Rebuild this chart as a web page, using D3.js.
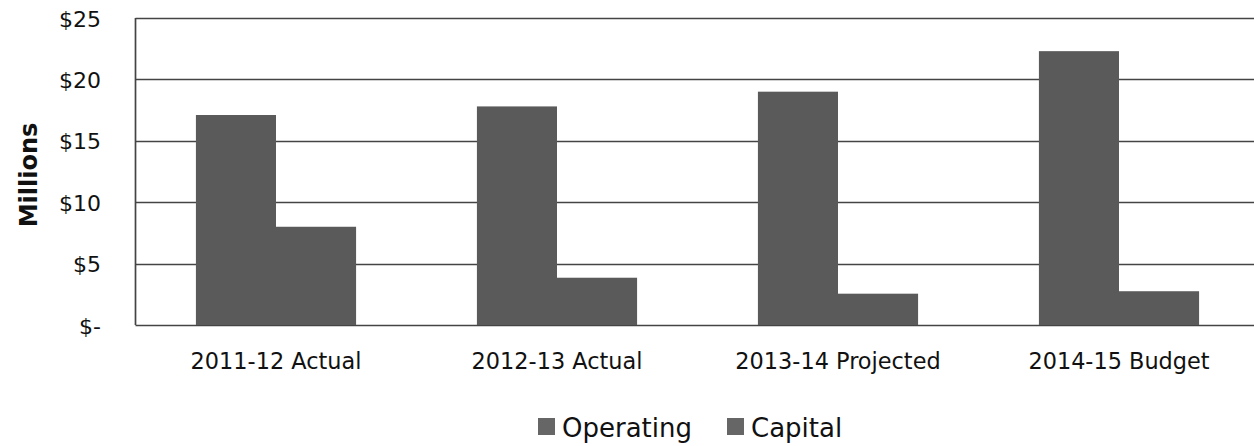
<!DOCTYPE html>
<html>
<head>
<meta charset="utf-8">
<script src="https://cdn.jsdelivr.net/npm/d3@7"></script>
<style>
  body { margin: 0; background: #fff; }
  text { font-family: "DejaVu Sans", Verdana, sans-serif; fill: #111; }
</style>
</head>
<body>
<script>
// data (millions of dollars)
var categories = ["2011-12 Actual", "2012-13 Actual", "2013-14 Projected", "2014-15 Budget"];
var series = ["Operating", "Capital"];
var operating = [17.1, 17.8, 19.0, 22.3];
var capital = [8.0, 3.85, 2.55, 2.75];
var yTicks = [0, 5, 10, 15, 20, 25];

var width = 1254, height = 446;
var margin = {left: 135.5, top: 18, bottom: 121};

var svg = d3.select("body").append("svg")
    .attr("width", width)
    .attr("height", height);

var x0 = d3.scaleBand()
    .domain(categories)
    .range([margin.left, margin.left + 4 * 281]);

var x1 = d3.scaleBand()
    .domain(series)
    .range([x0.bandwidth() * 0.215, x0.bandwidth() * 0.785]);

var y = d3.scaleLinear()
    .domain([0, 25])
    .range([height - margin.bottom, margin.top]);

//gridlines
svg.append("g")
    .selectAll("line")
    .data(yTicks)
    .enter().append("line")
    .attr("x1", margin.left)
    .attr("x2", width)
    .attr("y1", function(d) { return Math.round(y(d)) + 0.5; })
    .attr("y2", function(d) { return Math.round(y(d)) + 0.5; })
    .style("stroke", "#444")
    .style("stroke-width", 1.7);

//left border
svg.append("line")
    .attr("x1", margin.left).attr("x2", margin.left)
    .attr("y1", y(25)).attr("y2", y(0))
    .style("stroke", "#444")
    .style("stroke-width", 1.7);

//bars
var rows = categories.map(function(c, i) {
    return {cat: c, values: [{key: "Operating", v: operating[i]}, {key: "Capital", v: capital[i]}]};
});

var groups = svg.selectAll(".grp")
    .data(rows)
    .enter().append("g")
    .attr("class", "grp")
    .attr("transform", function(d) { return "translate(" + x0(d.cat) + ",0)"; });

groups.selectAll("rect")
    .data(function(d) { return d.values; })
    .enter().append("rect")
    .attr("x", function(d) { return x1(d.key); })
    .attr("width", x1.bandwidth())
    .attr("y", function(d) { return y(d.v); })
    .attr("height", function(d) { return y(0) - y(d.v); })
    .style("fill", "#5a5a5a");

//y axis labels
var yAxis = d3.axisLeft(y).tickValues(yTicks).tickSize(0).tickPadding(0)
    .tickFormat(function(d) { return d == 0 ? "$-" : "$" + d; });

var gy = svg.append("g")
    .attr("transform", "translate(101,1)")
    .call(yAxis);
gy.select(".domain").remove();
gy.selectAll("text")
    .style("font-family", "'DejaVu Sans', Verdana, sans-serif")
    .style("font-size", "22px")
    .attr("fill", "#111");

svg.append("text")
    .attr("transform", "translate(37," + 175 + ") rotate(-90)")
    .style("text-anchor", "middle")
    .style("font-weight", "bold")
    .style("font-size", "24px")
    .text("Millions");

//x labels
svg.selectAll(".xlab")
    .data(categories)
    .enter().append("text")
    .attr("class", "xlab")
    .attr("x", function(d) { return x0(d) + x0.bandwidth() / 2; })
    .attr("y", 369)
    .style("text-anchor", "middle")
    .style("font-size", "22.4px")
    .text(function(d) { return d; });

//legend
var legendX = [538, 727];
var legend = svg.selectAll(".leg")
    .data(series)
    .enter().append("g")
    .attr("class", "leg")
    .attr("transform", function(d, i) { return "translate(" + legendX[i] + ",418)"; });

legend.append("rect")
    .attr("width", 17)
    .attr("height", 17)
    .style("fill", "#666");

legend.append("text")
    .attr("x", 24)
    .attr("y", 19)
    .style("font-size", "26px")
    .text(function(d) { return d; });
</script>
</body>
</html>
